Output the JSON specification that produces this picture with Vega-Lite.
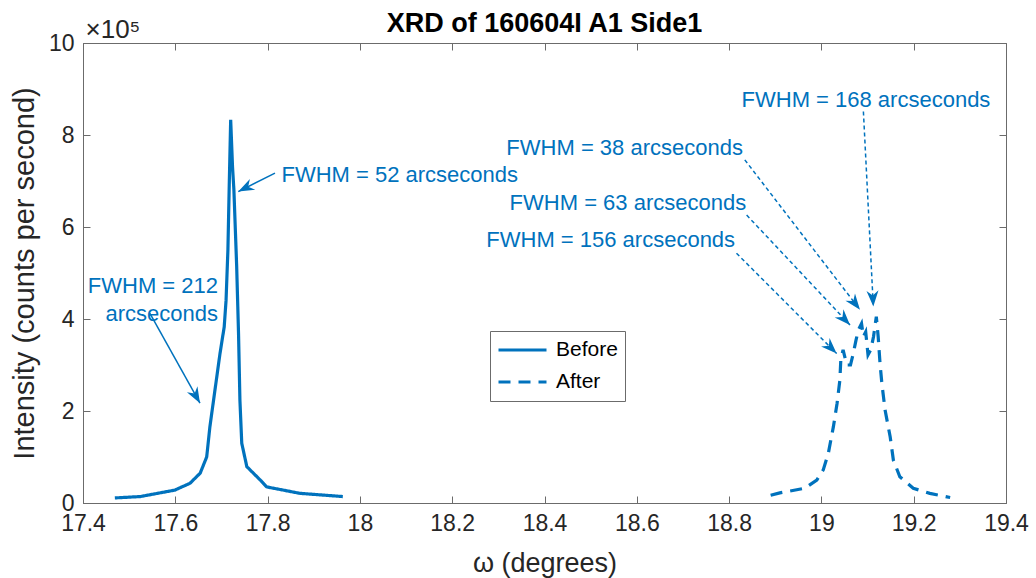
{
  "$schema": "https://vega.github.io/schema/vega-lite/v6.json",
  "width": 923,
  "height": 460,
  "autosize": {"type": "none"},
  "padding": {"left": 83, "top": 43, "right": 30, "bottom": 75},
  "background": "white",
  "config": {
    "font": "Liberation Sans",
    "view": {"stroke": "#6b6b6b", "strokeWidth": 1},
    "axis": {"grid": false, "domainColor": "#6b6b6b", "tickColor": "#6b6b6b", "labelColor": "#262626", "titleColor": "#262626", "titleFontWeight": "normal", "labelFont": "Liberation Sans", "titleFont": "Liberation Sans"}
  },
  "title": {"text": "XRD of 160604I A1 Side1", "fontSize": 27, "fontWeight": "bold", "font": "Liberation Sans", "color": "#000000", "frame": "group", "anchor": "middle", "offset": -22},
  "datasets": {
    "curves": [
      {"series": "Before", "omega": 17.469, "intensity": 11000},
      {"series": "Before", "omega": 17.524, "intensity": 14000},
      {"series": "Before", "omega": 17.599, "intensity": 28000},
      {"series": "Before", "omega": 17.632, "intensity": 43000},
      {"series": "Before", "omega": 17.654, "intensity": 65000},
      {"series": "Before", "omega": 17.668, "intensity": 100000},
      {"series": "Before", "omega": 17.675, "intensity": 166000},
      {"series": "Before", "omega": 17.686, "intensity": 246000},
      {"series": "Before", "omega": 17.697, "intensity": 326000},
      {"series": "Before", "omega": 17.706, "intensity": 383000},
      {"series": "Before", "omega": 17.710, "intensity": 441000},
      {"series": "Before", "omega": 17.714, "intensity": 550000},
      {"series": "Before", "omega": 17.717, "intensity": 696000},
      {"series": "Before", "omega": 17.720, "intensity": 833000},
      {"series": "Before", "omega": 17.724, "intensity": 731000},
      {"series": "Before", "omega": 17.727, "intensity": 680000},
      {"series": "Before", "omega": 17.733, "intensity": 514000},
      {"series": "Before", "omega": 17.737, "intensity": 369000},
      {"series": "Before", "omega": 17.740, "intensity": 224000},
      {"series": "Before", "omega": 17.744, "intensity": 130000},
      {"series": "Before", "omega": 17.755, "intensity": 79000},
      {"series": "Before", "omega": 17.784, "intensity": 50000},
      {"series": "Before", "omega": 17.798, "intensity": 35000},
      {"series": "Before", "omega": 17.870, "intensity": 21000},
      {"series": "Before", "omega": 17.963, "intensity": 14000},
      {"series": "After", "omega": 18.890, "intensity": 17000},
      {"series": "After", "omega": 18.910, "intensity": 22000},
      {"series": "After", "omega": 18.964, "intensity": 32000},
      {"series": "After", "omega": 18.990, "intensity": 50000},
      {"series": "After", "omega": 19.004, "intensity": 72000},
      {"series": "After", "omega": 19.015, "intensity": 108000},
      {"series": "After", "omega": 19.026, "intensity": 166000},
      {"series": "After", "omega": 19.034, "intensity": 217000},
      {"series": "After", "omega": 19.040, "intensity": 267000},
      {"series": "After", "omega": 19.042, "intensity": 310000},
      {"series": "After", "omega": 19.047, "intensity": 333000},
      {"series": "After", "omega": 19.055, "intensity": 300000},
      {"series": "After", "omega": 19.063, "intensity": 300000},
      {"series": "After", "omega": 19.069, "intensity": 325000},
      {"series": "After", "omega": 19.075, "intensity": 354000},
      {"series": "After", "omega": 19.080, "intensity": 376000},
      {"series": "After", "omega": 19.087, "intensity": 390000},
      {"series": "After", "omega": 19.091, "intensity": 362000},
      {"series": "After", "omega": 19.096, "intensity": 372000},
      {"series": "After", "omega": 19.101, "intensity": 322000},
      {"series": "After", "omega": 19.107, "intensity": 333000},
      {"series": "After", "omega": 19.113, "intensity": 362000},
      {"series": "After", "omega": 19.119, "intensity": 405000},
      {"series": "After", "omega": 19.123, "intensity": 362000},
      {"series": "After", "omega": 19.127, "intensity": 304000},
      {"series": "After", "omega": 19.131, "intensity": 260000},
      {"series": "After", "omega": 19.138, "intensity": 202000},
      {"series": "After", "omega": 19.149, "intensity": 144000},
      {"series": "After", "omega": 19.156, "intensity": 93000},
      {"series": "After", "omega": 19.170, "intensity": 57000},
      {"series": "After", "omega": 19.199, "intensity": 32000},
      {"series": "After", "omega": 19.235, "intensity": 21000},
      {"series": "After", "omega": 19.279, "intensity": 12000}
    ],
    "notes": [
      {"label": "FWHM = 52 arcseconds", "series": "Before", "tx": 17.830, "ty": 713000, "x1": 17.816, "y1": 717000, "x2": 17.7365, "y2": 677000},
      {"label": "FWHM = 212\narcseconds", "series": "Before", "tx": 17.6925, "ty": 472000, "x1": 17.545, "y1": 412000, "x2": 17.6535, "y2": 217000},
      {"label": "FWHM = 168 arcseconds", "series": "After", "tx": 18.827, "ty": 876000, "x1": 19.091, "y1": 851000, "x2": 19.1125, "y2": 427000},
      {"label": "FWHM = 38 arcseconds", "series": "After", "tx": 18.830, "ty": 771000, "x1": 18.834, "y1": 746000, "x2": 19.0836, "y2": 420000},
      {"label": "FWHM = 63 arcseconds", "series": "After", "tx": 18.837, "ty": 651500, "x1": 18.838, "y1": 626000, "x2": 19.062, "y2": 387000},
      {"label": "FWHM = 156 arcseconds", "series": "After", "tx": 18.813, "ty": 572000, "x1": 18.816, "y1": 543000, "x2": 19.033, "y2": 325000}
    ]
  },
  "layer": [
    {
      "data": {"name": "curves"},
      "mark": {"type": "line", "color": "#0072BD", "strokeWidth": 3.2, "clip": true},
      "encoding": {
        "x": {"field": "omega", "type": "quantitative", "scale": {"domain": [17.4, 19.4], "nice": false, "zero": false},
          "axis": {"orient": "bottom", "values": [17.4, 17.6, 17.8, 18.0, 18.2, 18.4, 18.6, 18.8, 19.0, 19.2, 19.4], "labelExpr": "toString(round(datum.value*10)/10)", "labelFontSize": 23, "labelOverlap": false, "labelFlush": false, "tickSize": -7, "labelPadding": 16, "title": "ω (degrees)", "titleFontSize": 27, "titlePadding": 15}},
        "y": {"field": "intensity", "type": "quantitative", "scale": {"domain": [0, 1000000], "nice": false, "zero": true},
          "axis": {"orient": "left", "values": [0, 200000, 400000, 600000, 800000, 1000000], "labelExpr": "toString(datum.value/100000)", "labelFontSize": 23, "labelOverlap": false, "labelFlush": false, "tickSize": -7, "labelPadding": 16, "title": "Intensity (counts per second)", "titleFontSize": 29, "titlePadding": 9}},
        "strokeDash": {"field": "series", "type": "nominal", "scale": {"domain": ["Before", "After"], "range": [[1, 0], [12, 8]]},
          "legend": {"title": null, "orient": "none", "legendX": 407, "legendY": 288, "direction": "vertical", "symbolType": "stroke", "symbolStrokeWidth": 3, "symbolSize": 2304, "clipHeight": 24, "symbolStrokeColor": "#0072BD", "labelFontSize": 21, "labelFont": "Liberation Sans", "labelColor": "#000000", "labelOffset": 8, "padding": 7, "rowPadding": 8, "strokeColor": "#6b6b6b", "fillColor": "#ffffff"}}
      }
    },
    {
      "data": {"name": "notes"},
      "layer": [
        {
          "transform": [{"filter": "datum.series == 'Before'"}],
          "mark": {"type": "rule", "color": "#0072BD", "strokeWidth": 1.5},
          "encoding": {
            "x": {"field": "x1", "type": "quantitative", "axis": {"orient": "top", "labels": false, "tickSize": -7, "values": [17.4, 17.6, 17.8, 18.0, 18.2, 18.4, 18.6, 18.8, 19.0, 19.2, 19.4], "domain": false, "title": "×10⁵", "titleFontSize": 26, "titleAngle": 0, "titleAlign": "left", "titleBaseline": "alphabetic", "titleX": 2, "titleY": -6}},
            "y": {"field": "y1", "type": "quantitative", "axis": {"orient": "right", "labels": false, "tickSize": -7, "values": [0, 200000, 400000, 600000, 800000, 1000000], "domain": false, "title": null}},
            "x2": {"field": "x2"},
            "y2": {"field": "y2"}
          }
        },
        {
          "transform": [{"filter": "datum.series == 'After'"}],
          "mark": {"type": "rule", "color": "#0072BD", "strokeWidth": 1.5, "strokeDash": [4, 3]},
          "encoding": {
            "x": {"field": "x1", "type": "quantitative", "axis": {"orient": "top", "labels": false, "tickSize": -7, "values": [17.4, 17.6, 17.8, 18.0, 18.2, 18.4, 18.6, 18.8, 19.0, 19.2, 19.4], "domain": false, "title": "×10⁵", "titleFontSize": 26, "titleAngle": 0, "titleAlign": "left", "titleBaseline": "alphabetic", "titleX": 2, "titleY": -6}},
            "y": {"field": "y1", "type": "quantitative", "axis": {"orient": "right", "labels": false, "tickSize": -7, "values": [0, 200000, 400000, 600000, 800000, 1000000], "domain": false, "title": null}},
            "x2": {"field": "x2"},
            "y2": {"field": "y2"}
          }
        },
        {
          "transform": [{"calculate": "atan2((datum.x2 - datum.x1) * 461.5, (datum.y2 - datum.y1) * 0.00046) * 180 / PI", "as": "angle"}],
          "mark": {"type": "point", "shape": "M0,0 L0.6,1.6 L0,1.1 L-0.6,1.6 Z", "filled": true, "size": 400, "color": "#0072BD", "opacity": 1, "strokeWidth": 0},
          "encoding": {
            "x": {"field": "x2", "type": "quantitative", "axis": {"orient": "top", "labels": false, "tickSize": -7, "values": [17.4, 17.6, 17.8, 18.0, 18.2, 18.4, 18.6, 18.8, 19.0, 19.2, 19.4], "domain": false, "title": "×10⁵", "titleFontSize": 26, "titleAngle": 0, "titleAlign": "left", "titleBaseline": "alphabetic", "titleX": 2, "titleY": -6}},
            "y": {"field": "y2", "type": "quantitative", "axis": {"orient": "right", "labels": false, "tickSize": -7, "values": [0, 200000, 400000, 600000, 800000, 1000000], "domain": false, "title": null}},
            "angle": {"field": "angle", "type": "quantitative", "scale": null}
          }
        },
        {
          "transform": [{"filter": {"field": "label", "oneOf": ["FWHM = 52 arcseconds", "FWHM = 168 arcseconds"]}}],
          "mark": {"type": "text", "align": "left", "baseline": "middle", "fontSize": 22, "font": "Liberation Sans", "color": "#0072BD", "lineBreak": "\n", "lineHeight": 28},
          "encoding": {
            "x": {"field": "tx", "type": "quantitative", "axis": {"orient": "top", "labels": false, "tickSize": -7, "values": [17.4, 17.6, 17.8, 18.0, 18.2, 18.4, 18.6, 18.8, 19.0, 19.2, 19.4], "domain": false, "title": "×10⁵", "titleFontSize": 26, "titleAngle": 0, "titleAlign": "left", "titleBaseline": "alphabetic", "titleX": 2, "titleY": -6}},
            "y": {"field": "ty", "type": "quantitative", "axis": {"orient": "right", "labels": false, "tickSize": -7, "values": [0, 200000, 400000, 600000, 800000, 1000000], "domain": false, "title": null}},
            "text": {"field": "label"}
          }
        },
        {
          "transform": [{"filter": {"not": {"field": "label", "oneOf": ["FWHM = 52 arcseconds", "FWHM = 168 arcseconds"]}}}],
          "mark": {"type": "text", "align": "right", "baseline": "middle", "fontSize": 22, "font": "Liberation Sans", "color": "#0072BD", "lineBreak": "\n", "lineHeight": 28},
          "encoding": {
            "x": {"field": "tx", "type": "quantitative", "axis": {"orient": "top", "labels": false, "tickSize": -7, "values": [17.4, 17.6, 17.8, 18.0, 18.2, 18.4, 18.6, 18.8, 19.0, 19.2, 19.4], "domain": false, "title": "×10⁵", "titleFontSize": 26, "titleAngle": 0, "titleAlign": "left", "titleBaseline": "alphabetic", "titleX": 2, "titleY": -6}},
            "y": {"field": "ty", "type": "quantitative", "axis": {"orient": "right", "labels": false, "tickSize": -7, "values": [0, 200000, 400000, 600000, 800000, 1000000], "domain": false, "title": null}},
            "text": {"field": "label"}
          }
        }
      ]
    }
  ],
  "resolve": {"axis": {"x": "independent", "y": "independent"}}
}
